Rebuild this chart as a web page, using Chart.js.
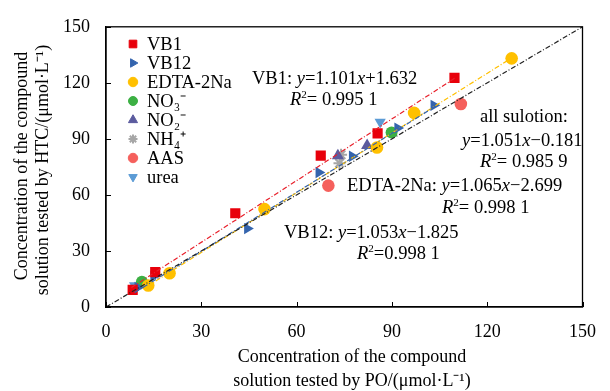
<!DOCTYPE html>
<html>
<head>
<meta charset="utf-8">
<script src="https://cdn.jsdelivr.net/npm/chart.js@4"></script>
<style>
html,body{margin:0;padding:0;background:#fff;}
#wrap{width:610px;height:391px;}
</style>
</head>
<body>
<div id="wrap"><canvas id="c" width="610" height="391"></canvas></div>
<script>
// ---- data ----
const seriesNames = ['VB1', 'VB12', 'EDTA-2Na', 'NO\u2083\u207B', 'NO\u2082\u207B', 'NH\u2084\u207A', 'AAS', 'urea'];
const vb1X  = [8.4, 15.5, 40.7, 67.6, 85.5, 109.7];
const vb1Y  = [9.2, 18.7, 50.2, 81.0, 92.9, 122.7];
const vb12X = [10.0, 15.0, 44.5, 67.0, 77.5, 91.8, 103.2];
const vb12Y = [10.5, 16.5, 42.0, 72.0, 80.7, 95.8, 108.0];
const edtaX = [13.3, 20.0, 49.9, 85.3, 97.0, 127.7];
const edtaY = [11.5, 18.1, 52.4, 85.4, 103.9, 133.1];
const no3X  = [11.3, 89.9];
const no3Y  = [13.5, 93.4];
const no2X  = [73.0, 82.2];
const no2Y  = [81.0, 86.4];
const nh4X  = [74.0, 73.5];
const nh4Y  = [81.5, 77.0];
const aasX  = [70.0, 111.7];
const aasY  = [65.0, 108.7];
const ureaX = [9.0, 86.3];
const ureaY = [11.5, 99.0];
// fitted / reference line end points
const vb1LineX  = [8.0, 110.0];
const vb1LineY  = [10.4, 122.7];
const edtaLineX = [13.0, 127.7];
const edtaLineY = [11.1, 133.3];
const vb12LineX = [9.0, 103.4];
const vb12LineY = [7.7, 107.1];
const allLineX  = [0, 150];
const allLineY  = [0, 150];
const xTicks = [0, 30, 60, 90, 120, 150];
const yTicks = [0, 30, 60, 90, 120, 150];

const pts = (xs, ys) => xs.map((x, i) => ({x: x, y: ys[i]}));
const SERIF = '"Liberation Serif", "Times New Roman", serif';

const colors = ['#e8000b', '#3464ad', '#ffc000', '#3cb043', '#5b5b9e', '#a6a6a6', '#f5605c', '#5b9bd5'];
const styles = ['rect', 'triangle', 'circle', 'circle', 'triangle', 'star', 'circle', 'triangle'];
const rots   = [0, 90, 0, 0, 0, 0, 0, 180];
const radii  = [7.2, 6.5, 6.3, 6, 7, 6, 6.3, 6.5];
const xsAll = [vb1X, vb12X, edtaX, no3X, no2X, nh4X, aasX, ureaX];
const ysAll = [vb1Y, vb12Y, edtaY, no3Y, no2Y, nh4Y, aasY, ureaY];

const datasets = [];
function lineDs(xs, ys, color) {
  return {type: 'line', data: pts(xs, ys), borderColor: color, borderWidth: 1.2,
    borderDash: [5, 2, 1, 2], pointRadius: 0, fill: false, showLine: true};
}
datasets.push(lineDs(allLineX, allLineY, '#222'));
datasets.push(lineDs(vb12LineX, vb12LineY, '#3464ad'));
datasets.push(lineDs(edtaLineX, edtaLineY, '#ffc000'));
datasets.push(lineDs(vb1LineX, vb1LineY, '#e8202b'));
for (let i = 0; i < seriesNames.length; i++) {
  datasets.push({type: 'scatter', label: seriesNames[i], data: pts(xsAll[i], ysAll[i]),
    pointStyle: styles[i], rotation: rots[i], pointRadius: radii[i],
    backgroundColor: colors[i], borderColor: colors[i], borderWidth: styles[i] === 'star' ? 2 : 0});
}

function drawRich(ctx, segs, x, y, size) {
  let cx = x;
  for (const [t, s] of segs) {
    if (s === 'sup') {
      ctx.font = (size * 0.6) + 'px ' + SERIF;
      ctx.fillText(t, cx, y - size * 0.38);
    } else {
      ctx.font = (s === 'i' ? 'italic ' : '') + size + 'px ' + SERIF;
      ctx.fillText(t, cx, y);
    }
    cx += ctx.measureText(t).width;
  }
}

const decor = {
  id: 'decor',
  afterDraw(chart) {
    const ctx = chart.ctx, a = chart.chartArea;
    const xs = chart.scales.x, ys = chart.scales.y;
    ctx.save();
    ctx.strokeStyle = '#000'; ctx.lineWidth = 1.3;
    ctx.strokeRect(a.left, a.top, a.right - a.left, a.bottom - a.top);
    ctx.lineWidth = 1;
    ctx.beginPath();
    for (const v of xTicks) {
      const px = Math.round(xs.getPixelForValue(v)) + 0.5;
      ctx.moveTo(px, a.bottom); ctx.lineTo(px, a.bottom - 5);
    }
    for (const v of yTicks) {
      const py = Math.round(ys.getPixelForValue(v)) + 0.5;
      ctx.moveTo(a.left, py); ctx.lineTo(a.left + 5, py);
    }
    ctx.stroke();
    // legend
    ctx.textBaseline = 'middle';
    const lx = 133, ly0 = 44, dy = 19;
    for (let i = 0; i < seriesNames.length; i++) {
      const y = ly0 + dy * i;
      ctx.fillStyle = colors[i]; ctx.strokeStyle = colors[i]; ctx.lineWidth = styles[i] === 'star' ? 2 : 1;
      Chart.helpers.drawPoint(ctx, {pointStyle: styles[i], rotation: rots[i], radius: radii[i] * 0.75, borderWidth: 1}, lx, y);
      ctx.fillStyle = '#000';
      ctx.font = '18.5px ' + SERIF;
      ctx.fillText(seriesNames[i], 147, y + 1);
    }
    // equations
    ctx.textBaseline = 'alphabetic';
    ctx.fillStyle = '#000';
    const S = 18.5;
    drawRich(ctx, [['VB1: ', 'n'], ['y', 'i'], ['=1.101', 'n'], ['x', 'i'], ['+1.632', 'n']], 252, 84, S);
    drawRich(ctx, [['R', 'i'], ['2', 'sup'], ['= 0.995 1', 'n']], 290, 105, S);
    drawRich(ctx, [['all sulotion:', 'n']], 480, 122, S);
    drawRich(ctx, [['y', 'i'], ['=1.051', 'n'], ['x', 'i'], ['\u22120.181', 'n']], 462, 146, S);
    drawRich(ctx, [['R', 'i'], ['2', 'sup'], ['= 0.985 9', 'n']], 480, 167, S);
    drawRich(ctx, [['EDTA-2Na: ', 'n'], ['y', 'i'], ['=1.065', 'n'], ['x', 'i'], ['\u22122.699', 'n']], 347, 191, S);
    drawRich(ctx, [['R', 'i'], ['2', 'sup'], ['= 0.998 1', 'n']], 442, 213, S);
    drawRich(ctx, [['VB12: ', 'n'], ['y', 'i'], ['=1.053', 'n'], ['x', 'i'], ['\u22121.825', 'n']], 284, 238, S);
    drawRich(ctx, [['R', 'i'], ['2', 'sup'], ['=0.998 1', 'n']], 357, 259, S);
    // axis titles
    ctx.font = '18px ' + SERIF;
    ctx.textAlign = 'center';
    ctx.textBaseline = 'middle';
    ctx.fillText('Concentration of the compound', 352, 357);
    ctx.fillText('solution tested by PO/(\u03BCmol\u00B7L\u207B\u00B9)', 352, 381);
    ctx.save();
    ctx.translate(22, 166); ctx.rotate(-Math.PI / 2);
    ctx.fillText('Concentration of the compound', 0, 0);
    ctx.restore();
    ctx.save();
    ctx.translate(43, 170); ctx.rotate(-Math.PI / 2);
    ctx.fillText('solution tested by HTC/(\u03BCmol\u00B7L\u207B\u00B9)', 0, 0);
    ctx.restore();
    ctx.restore();
  }
};

new Chart(document.getElementById('c'), {
  type: 'scatter',
  data: {datasets: datasets},
  options: {
    responsive: false,
    animation: false,
    devicePixelRatio: 1,
    layout: {padding: {left: 0, right: 13, top: 20, bottom: 0}},
    plugins: {legend: {display: false}, tooltip: {enabled: false}},
    scales: {
      x: {
        type: 'linear', min: 0, max: 150,
        afterBuildTicks: s => { s.ticks = xTicks.map(v => ({value: v})); },
        afterFit: s => { s.height = 84; },
        grid: {display: false, drawTicks: false},
        border: {display: true, color: '#000', width: 1.3},
        ticks: {color: '#000', padding: 14, font: {family: SERIF, size: 18}, maxRotation: 0}
      },
      y: {
        type: 'linear', min: 0, max: 150,
        afterBuildTicks: s => { s.ticks = yTicks.map(v => ({value: v})); },
        afterFit: s => { s.width = 106; },
        grid: {display: false, drawTicks: false},
        border: {display: true, color: '#000', width: 1.3},
        ticks: {color: '#000', padding: 16, font: {family: SERIF, size: 18}}
      }
    }
  },
  plugins: [decor]
});
</script>
</body>
</html>
